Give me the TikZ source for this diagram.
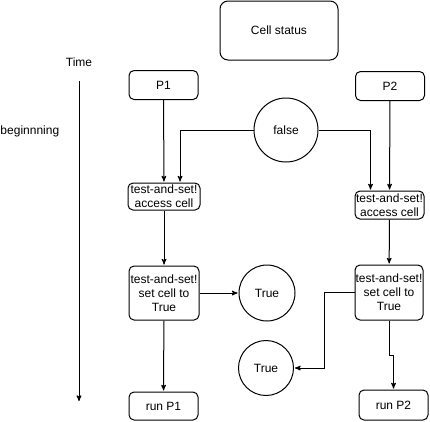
\documentclass[tikz,border=0pt]{standalone}
\usepackage{fontspec}
\setmainfont{Liberation Sans}
\usetikzlibrary{
        arrows,
        positioning
    }
\tikzset{>=stealth',shorten >=1pt}
\tikzset{proc/.style={draw,rounded corners=5pt,align=center,inner sep=0pt,
        minimum width=69pt,minimum height=29pt}}
\tikzset{val/.style={draw,circle,inner sep=0pt,minimum size=56pt}}

\begin{document}
\begin{tikzpicture}[x=1pt,y=-1pt,>=stealth',auto,line width=1pt,
        every node/.style={font=\fontsize{12}{14}\selectfont}]
                \useasboundingbox (0,0) rectangle (430,421);
                \node[proc,minimum width=118pt,minimum height=59pt,rounded corners=8pt] (status) at (279,30.5) {Cell status};
                \node (time) at (79,62) {Time};
                \node[anchor=west,inner sep=0pt] (begin) at (0,131) {beginnning};
                \coordinate (t0) at (79,81);
                \coordinate (t1) at (79,402);
                \node[proc] (p1) at (163.5,85) {P1};
                \node[proc] (p2) at (390,86) {P2};
                \node[val,minimum size=64pt] (false) at (286,130) {false};
                \node[proc,minimum width=72pt,minimum height=27pt] (acc1) at (164,196.5) {test-and-set!\\access cell};
                \node[proc,minimum width=69pt,minimum height=28pt] (acc2) at (389.5,205) {test-and-set!\\access cell};
                \node[proc,minimum width=70pt,minimum height=54pt] (set1) at (164,293) {test-and-set!\\set cell to\\True};
                \node[proc,minimum width=68pt,minimum height=55pt] (set2) at (389,292.5) {test-and-set!\\set cell to\\True};
                \node[val] (true1) at (267,293) {True};
                \node[val,minimum size=55pt] (true2) at (266,368) {True};
                \node[proc,minimum height=28pt] (run1) at (163.5,406) {run P1};
                \node[proc,minimum height=30pt] (run2) at (393.5,405) {run P2};
                \path[->]
                    (t0) edge (t1)
                    (p1) edge (acc1)
                    (p2) edge (acc2)
                    (acc1) edge (set1)
                    (acc2) edge (set2)
                    (set1) edge (true1)
                    (set1) edge (run1)
                ;
                \draw[->] (false) -| ([xshift=16pt]acc1.north);
                \draw[->] (false) -| ([xshift=-19pt]acc2.north);
                \draw[->] (set2.west) -- ([xshift=-30pt]set2.west) |- (true2.east);
                \draw[->] (set2.south) -- ++(0,35) -| (run2.north);
            \end{tikzpicture}
\end{document}
